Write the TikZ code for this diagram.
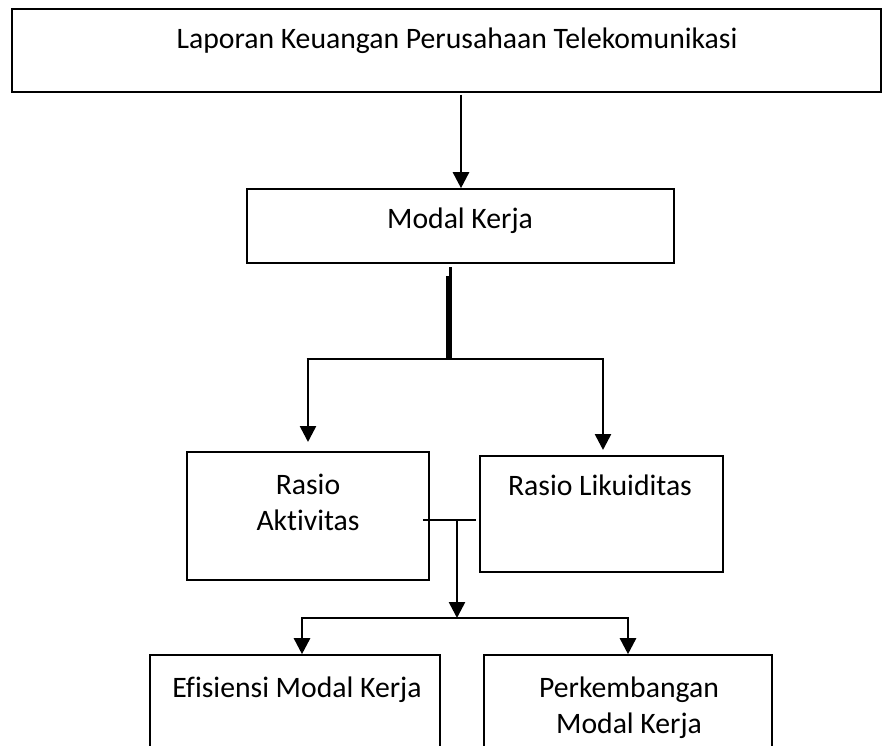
\documentclass[tikz,border=0pt]{standalone}
\usepackage{fontspec}
\setmainfont{Carlito}[Ligatures={NoCommon}]
\usetikzlibrary{arrows.meta}
\begin{document}
\begin{tikzpicture}[x=1pt,y=-1pt,
  box/.style={draw, line width=1.6pt, rectangle, inner sep=0pt},
  txt/.style={font=\fontsize{29.7}{36}\selectfont, inner sep=0pt, anchor=base},
  conn/.style={line width=2.6pt},
  thinconn/.style={line width=1.8pt},
  arr/.style={conn, -{Triangle[width=16pt,length=16pt]}},
]
\useasboundingbox (0,0) rectangle (889,746);
\clip (0,0) rectangle (889,746);
\fill[white] (0,0) rectangle (889,746);

% boxes
\node[box, minimum width=869pt, minimum height=83pt] (top) at (446.5,50.5) {};
\node[box, minimum width=427pt, minimum height=74pt] (mk) at (460.5,226) {};
\node[box, minimum width=242pt, minimum height=128pt] (ra) at (308,516) {};
\node[box, minimum width=243pt, minimum height=116pt] (rl) at (601.5,514) {};
\node[box, minimum width=290pt, minimum height=148pt] (ef) at (295,729) {};
\node[box, minimum width=288pt, minimum height=148pt] (pk) at (628,729) {};

% texts
\node[txt] (ttop) at (457,49) {Laporan Keuangan Perusahaan Telekomunikasi};
\node[txt] (tmk) at (460,229) {Modal Kerja};
\node[txt] (tra1) at (308,494) {Rasio};
\node[txt] (tra2) at (308,530) {Aktivitas};
\node[txt] (trl) at (600,495) {Rasio Likuiditas};
\node[txt] (tef) at (297,697) {Efisiensi Modal Kerja};
\node[txt] (tpk1) at (629,697) {Perkembangan};
\node[txt] (tpk2) at (629,733) {Modal Kerja};

% connector top -> Modal Kerja
\coordinate (a1s) at (461,95);
\draw[arr] (a1s) -- (a1s |- mk.north);

% double stem below Modal Kerja
\coordinate (s1) at (447.5,276);
\coordinate (s2) at (450.5,267);
\coordinate (j1) at (449,359);
\draw[conn] (s1) -- (s1 |- j1);
\draw[conn] (s2) -- (s2 |- j1);

% branch to Rasio boxes
\coordinate (bl) at (308,359);
\coordinate (br) at (603,359);
\coordinate (blt) at (308,442);
\coordinate (brt) at (603,450);
\draw[conn] ([xshift=-1.3pt]bl) -- ([xshift=1.3pt]br);
\draw[arr] (bl) -- (blt);
\draw[arr] (br) -- (brt);

% joint between Rasio boxes
\coordinate (h1) at (423,520);
\coordinate (h2) at (476,520);
\coordinate (v1) at (457,520);
\coordinate (v2) at (457,618);
\draw[thinconn] (h1) -- (h2);
\draw[arr] (v1) -- (v2);

% branch to bottom boxes
\coordinate (cl) at (302,618);
\coordinate (cr) at (628,618);
\draw[thinconn] ([xshift=-1pt]cl) -- ([xshift=1pt]cr);
\draw[arr] (cl) -- (cl |- ef.north);
\draw[arr] (cr) -- (cr |- pk.north);
\end{tikzpicture}
\end{document}
